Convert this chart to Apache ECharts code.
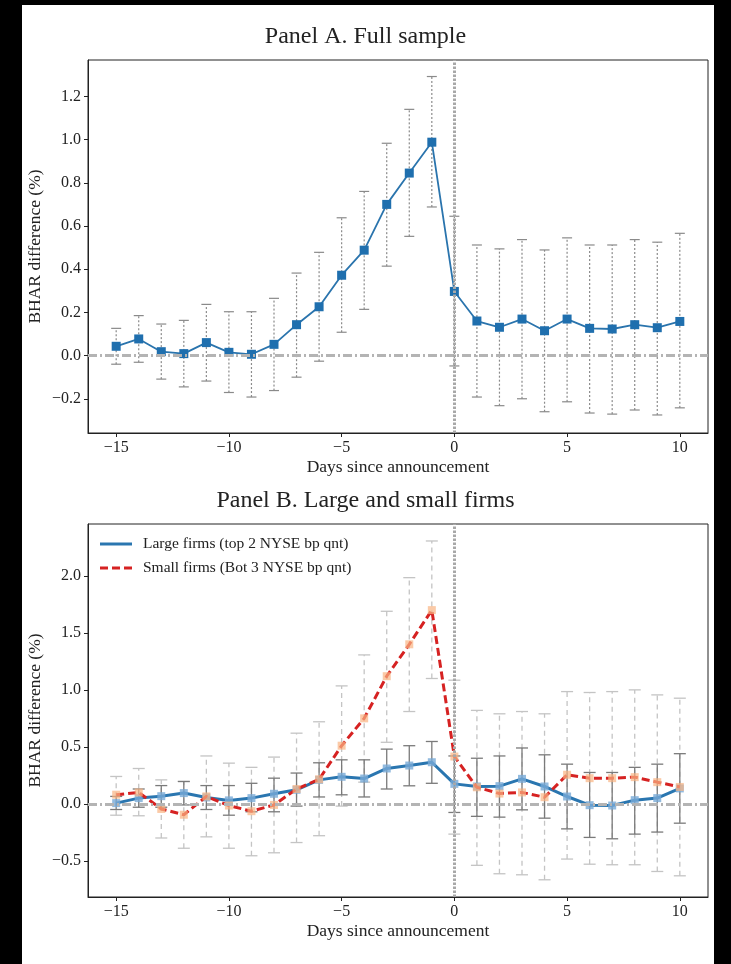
<!DOCTYPE html>
<html>
<head>
<meta charset="utf-8">
<script src="https://cdn.jsdelivr.net/npm/echarts@6/dist/echarts.min.js"></script>
<style>
  html, body { margin: 0; padding: 0; background: #000; }
  #paper { position: absolute; left: 22px; top: 5px; width: 692px; height: 959px; background: #fff; }
  #chart { position: absolute; left: 0; top: 0; width: 731px; height: 964px; }
</style>
</head>
<body>
<div id="paper"></div>
<div id="chart"></div>
<script>
// Event days relative to the announcement
const days = [-15, -14, -13, -12, -11, -10, -9, -8, -7, -6, -5, -4, -3, -2, -1, 0, 1, 2, 3, 4, 5, 6, 7, 8, 9, 10];

// Panel A: full sample BHAR difference (%) and confidence bounds
const fullMean = [0.043, 0.077, 0.018, 0.009, 0.060, 0.015, 0.006, 0.052, 0.143, 0.226, 0.372, 0.488, 0.700, 0.845, 0.988,
                  0.297, 0.160, 0.131, 0.169, 0.115, 0.169, 0.126, 0.123, 0.143, 0.129, 0.158];
const fullHi   = [0.126, 0.185, 0.146, 0.163, 0.237, 0.203, 0.203, 0.265, 0.382, 0.478, 0.638, 0.760, 0.983, 1.140, 1.292,
                  0.645, 0.512, 0.494, 0.537, 0.489, 0.545, 0.512, 0.512, 0.537, 0.525, 0.566];
const fullLo   = [-0.040, -0.031, -0.109, -0.145, -0.118, -0.171, -0.192, -0.162, -0.100, -0.026, 0.108, 0.214, 0.414, 0.552, 0.688,
                  -0.048, -0.192, -0.232, -0.200, -0.260, -0.214, -0.266, -0.271, -0.252, -0.275, -0.242];

// Panel B: large firms (top 2 NYSE bp quintiles)
const largeMean = [0.006, 0.050, 0.067, 0.094, 0.056, 0.030, 0.050, 0.088, 0.123, 0.210, 0.237, 0.222, 0.310, 0.336, 0.365,
                   0.175, 0.152, 0.155, 0.219, 0.152, 0.064, -0.012, -0.015, 0.032, 0.050, 0.135];
const largeHi   = [0.065, 0.130, 0.160, 0.196, 0.160, 0.160, 0.180, 0.225, 0.270, 0.360, 0.386, 0.386, 0.480, 0.510, 0.547,
                   0.420, 0.400, 0.420, 0.490, 0.430, 0.348, 0.275, 0.275, 0.320, 0.348, 0.440];
const largeLo   = [-0.050, -0.030, -0.030, -0.010, -0.050, -0.100, -0.070, -0.070, -0.020, 0.060, 0.079, 0.060, 0.130, 0.158, 0.180,
                   -0.076, -0.110, -0.117, -0.053, -0.126, -0.220, -0.295, -0.307, -0.266, -0.248, -0.170];

// Panel B: small firms (bottom 3 NYSE bp quintiles)
const smallMean = [0.080, 0.100, -0.045, -0.096, 0.065, -0.015, -0.065, -0.010, 0.130, 0.215, 0.510, 0.750, 1.120, 1.400, 1.700,
                   0.415, 0.145, 0.090, 0.100, 0.058, 0.255, 0.225, 0.225, 0.234, 0.190, 0.148];
const smallHi   = [0.240, 0.310, 0.210, 0.196, 0.420, 0.357, 0.320, 0.410, 0.620, 0.720, 1.035, 1.307, 1.690, 1.985, 2.307,
                   1.085, 0.820, 0.790, 0.810, 0.790, 0.985, 0.977, 0.985, 1.000, 0.956, 0.927];
const smallLo   = [-0.100, -0.105, -0.300, -0.390, -0.290, -0.390, -0.456, -0.430, -0.340, -0.280, -0.020, 0.190, 0.540, 0.810, 1.100,
                   -0.266, -0.540, -0.614, -0.623, -0.667, -0.485, -0.530, -0.535, -0.535, -0.594, -0.632];

const xTicks = [-15, -10, -5, 0, 5, 10];
const yTicksA = [-0.2, 0.0, 0.2, 0.4, 0.6, 0.8, 1.0, 1.2];
const yTicksB = [-0.5, 0.0, 0.5, 1.0, 1.5, 2.0];

const FONT = 'Liberation Serif';
const minus = v => (v < 0 ? '\u2212' : '') + Math.abs(v);
const minus1 = v => (v < 0 ? '\u2212' : '') + Math.abs(v).toFixed(1);

const pts = (ys) => days.map((d, i) => [d, ys[i]]);
const bars = (lo, hi) => days.map((d, i) => [d, lo[i], hi[i]]);

// Vertical error bar with flat caps, placed through the axis scales
function errorBars(style, capHalf) {
  return function (params, api) {
    const x = api.value(0);
    const a = api.coord([x, api.value(1)]);
    const b = api.coord([x, api.value(2)]);
    const line = (x1, y1, x2, y2, st) => ({ type: 'line', shape: { x1, y1, x2, y2 }, style: st });
    const capStyle = Object.assign({}, style, { lineDash: null });
    return {
      type: 'group',
      children: [
        line(a[0], a[1], b[0], b[1], style),
        line(a[0] - capHalf, a[1], a[0] + capHalf, a[1], capStyle),
        line(b[0] - capHalf, b[1], b[0] + capHalf, b[1], capStyle)
      ]
    };
  };
}

// Zero reference lines: dash-dot at y = 0, dotted at the announcement day
const refLines = {
  silent: true,
  symbol: 'none',
  label: { show: false },
  data: [
    { yAxis: 0, lineStyle: { color: '#b4b4b4', width: 3, type: [9, 3, 2, 3] } },
    { xAxis: 0, lineStyle: { color: '#a8a8a8', width: 3, type: [2.5, 1.5] } }
  ]
};

function xAxisCfg(gridIndex) {
  return {
    type: 'value', gridIndex, min: -16.25, max: 11.25,
    name: 'Days since announcement', nameLocation: 'middle', nameGap: 25,
    nameTextStyle: { fontFamily: FONT, fontSize: 17.5, color: '#222' },
    axisLine: { show: true, onZero: false, lineStyle: { color: '#222', width: 1 } },
    axisTick: { show: true, inside: false, length: 4, lineStyle: { color: '#222' }, customValues: xTicks },
    axisLabel: { fontFamily: FONT, fontSize: 16, color: '#222', margin: 7, customValues: xTicks, formatter: minus },
    splitLine: { show: false }
  };
}
function yAxisCfg(gridIndex, min, max, ticks) {
  return {
    type: 'value', gridIndex, min, max,
    name: 'BHAR difference (%)', nameLocation: 'middle', nameGap: 44, nameMoveOverlap: false,
    nameTextStyle: { fontFamily: FONT, fontSize: 17.5, color: '#222' },
    axisLine: { show: true, onZero: false, lineStyle: { color: '#222', width: 1 } },
    axisTick: { show: true, inside: false, length: 4, lineStyle: { color: '#222' }, customValues: ticks },
    axisLabel: { fontFamily: FONT, fontSize: 16, color: '#222', margin: 7, customValues: ticks, formatter: minus1 },
    splitLine: { show: false }
  };
}

const chart = echarts.init(document.getElementById('chart'), null, { renderer: 'canvas' });
chart.setOption({
  backgroundColor: 'transparent',
  animation: false,
  title: [
    { text: 'Panel A. Full sample', left: 'center', top: 20,
      textStyle: { fontFamily: FONT, fontSize: 24, fontWeight: 'normal', color: '#222' } },
    { text: 'Panel B. Large and small firms', left: 'center', top: 484,
      textStyle: { fontFamily: FONT, fontSize: 24, fontWeight: 'normal', color: '#222' } }
  ],
  grid: [
    { left: 88, top: 60, width: 620, height: 373, show: true, borderColor: '#222', borderWidth: 1, backgroundColor: 'transparent' },
    { left: 88, top: 524, width: 620, height: 373, show: true, borderColor: '#222', borderWidth: 1, backgroundColor: 'transparent' }
  ],
  xAxis: [xAxisCfg(0), xAxisCfg(1)],
  yAxis: [yAxisCfg(0, -0.3585, 1.3685, yTicksA), yAxisCfg(1, -0.818, 2.456, yTicksB)],
  legend: {
    orient: 'vertical', left: 100, top: 536, padding: 0, itemWidth: 32, itemHeight: 3, itemGap: 8,
    textStyle: { fontFamily: FONT, fontSize: 15.5, color: '#222', padding: [0, 0, 0, 6] },
    data: [
      { name: 'Large firms (top 2 NYSE bp qnt)', icon: 'rect', itemStyle: { color: '#2a76b0' } },
      { name: 'Small firms (Bot 3 NYSE bp qnt)', icon: 'path://M0,0h8v3h-8z M12,0h8v3h-8z M24,0h8v3h-8z', itemStyle: { color: '#d62222' } }
    ]
  },
  series: [
    // Panel A
    { type: 'custom', xAxisIndex: 0, yAxisIndex: 0, z: 1, silent: true,
      renderItem: errorBars({ stroke: '#8a8a8a', lineWidth: 1.2, lineDash: [2, 2] }, 5),
      data: bars(fullLo, fullHi), markLine: refLines },
    { type: 'line', name: 'Full sample', xAxisIndex: 0, yAxisIndex: 0, z: 3, data: pts(fullMean),
      symbol: 'rect', symbolSize: 9, itemStyle: { color: '#1f6fae' },
      lineStyle: { color: '#2a74ad', width: 1.8 } },

    // Panel B
    { type: 'custom', xAxisIndex: 1, yAxisIndex: 1, z: 1, silent: true,
      renderItem: errorBars({ stroke: '#c4c4c4', lineWidth: 1.3, lineDash: [5, 4] }, 6),
      data: bars(smallLo, smallHi), markLine: refLines },
    { type: 'custom', xAxisIndex: 1, yAxisIndex: 1, z: 2, silent: true,
      renderItem: errorBars({ stroke: '#7a7a7a', lineWidth: 1.3 }, 6),
      data: bars(largeLo, largeHi) },
    { type: 'line', name: 'Large firms (top 2 NYSE bp qnt)', xAxisIndex: 1, yAxisIndex: 1, z: 3, data: pts(largeMean),
      symbol: 'rect', symbolSize: 8, itemStyle: { color: 'rgba(120,170,215,0.8)' },
      lineStyle: { color: '#2a76b0', width: 3 } },
    { type: 'line', name: 'Small firms (Bot 3 NYSE bp qnt)', xAxisIndex: 1, yAxisIndex: 1, z: 4, data: pts(smallMean),
      symbol: 'rect', symbolSize: 8, itemStyle: { color: 'rgba(250,180,130,0.7)' },
      lineStyle: { color: '#d62222', width: 3, type: [8, 4] } }
  ]
});
</script>
</body>
</html>
